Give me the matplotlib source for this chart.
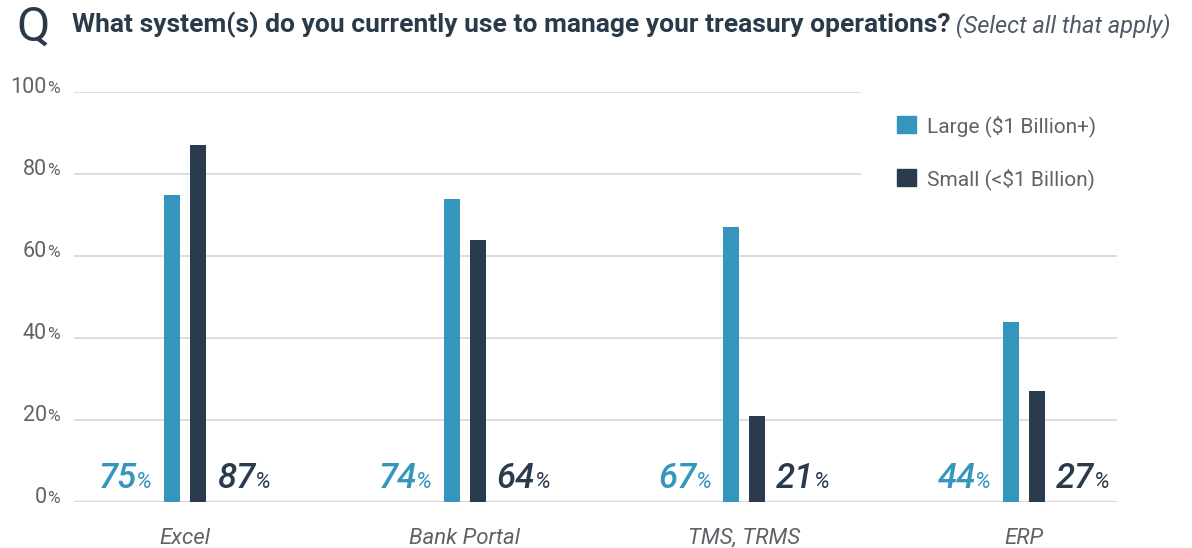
import matplotlib
matplotlib.use("Agg")
import matplotlib.pyplot as plt
from matplotlib.patches import Patch

plt.rcParams["font.family"] = ["Roboto", "DejaVu Sans"]

categories = ["Excel", "Bank Portal", "TMS, TRMS", "ERP"]
large = [75, 74, 67, 44]
small = [87, 64, 21, 27]
series_names = ["Large ($1 Billion+)", "Small (<$1 Billion)"]
yticks = [0, 20, 40, 60, 80, 100]

LARGE_C = "#3596bd"
SMALL_C = "#2b3b4e"
GRAY = "#5f6368"
TITLE_C = "#2b3a4b"
GRID_C = "#dadada"

W, H = 1192, 548
fig = plt.figure(figsize=(W / 100, H / 100), dpi=100)
# axes box in pixels: x 74..1117, y 92..502
ax = fig.add_axes([74 / W, (H - 502) / H, (1117 - 74) / W, (502 - 92) / H])
ax.set_xlim(-0.397, 3.333)
ax.set_ylim(0, 100)

bw = 0.057
off = 0.0465
xs = list(range(len(categories)))
ax.bar([x - off for x in xs], large, width=bw, color=LARGE_C, zorder=3)
ax.bar([x + off for x in xs], small, width=bw, color=SMALL_C, zorder=3)

# grid lines (top two stop short to leave room for legend)
for v in yticks:
    if v == 0:
        ax.axhline(v, color=GRID_C, lw=2.5, zorder=2)
    elif v >= 80:
        ax.axhline(v, xmax=(860 - 74) / (1117 - 74), color=GRID_C, lw=1.3, zorder=1)
    else:
        ax.axhline(v, color=GRID_C, lw=1.3, zorder=1)

for s in ax.spines.values():
    s.set_visible(False)
ax.set_yticks([])
ax.set_xticks(xs, categories, fontsize=16, style="italic", color=GRAY)
ax.tick_params(axis="x", length=0, pad=18.5)

# y tick labels: big number + small percent sign
ytr = ax.get_yaxis_transform()
for v in yticks:
    num = ax.annotate(str(v), xy=(0, v), xycoords=ytr, xytext=(-27, -1),
                      textcoords="offset pixels", ha="right", va="baseline",
                      fontsize=15.5, color=GRAY)
    ax.annotate("%", xy=(1, v), xycoords=(num, "data"), xytext=(0, -1),
                textcoords="offset pixels", ha="left", va="baseline",
                fontsize=12.5, color=GRAY)

# value labels next to bars
for x, a, b in zip(xs, large, small):
    pct = ax.annotate("%", xy=(x - off - bw / 2, 0), xytext=(-12, 14),
                      textcoords="offset pixels", ha="right", va="baseline",
                      fontsize=16, style="italic", color=LARGE_C)
    ax.annotate(str(a), xy=(0, 0), xycoords=(pct, "data"), xytext=(1, 14),
                textcoords="offset pixels", ha="right", va="baseline",
                fontsize=25, style="italic", fontweight="medium", color=LARGE_C)
    num = ax.annotate(str(b), xy=(x + off + bw / 2, 0), xytext=(11, 14),
                      textcoords="offset pixels", ha="left", va="baseline",
                      fontsize=25, style="italic", fontweight="medium", color=SMALL_C)
    ax.annotate("%", xy=(1, 0), xycoords=(num, "data"), xytext=(0, 14),
                textcoords="offset pixels", ha="left", va="baseline",
                fontsize=16, style="italic", color=SMALL_C)

# legend
handles = [Patch(color=LARGE_C, label=series_names[0]),
           Patch(color=SMALL_C, label=series_names[1])]
leg = ax.legend(handles=handles, loc="upper left",
                bbox_to_anchor=(897 / W, 1 - 115 / H), bbox_transform=fig.transFigure,
                frameon=False, fontsize=15, labelcolor=GRAY,
                handlelength=0.9, handleheight=0.9, handletextpad=0.55,
                labelspacing=1.5, borderpad=0, borderaxespad=0)

# title
fig.text(16 / W, 1 - 41 / H, "Q", fontsize=35, color=TITLE_C, va="baseline")
t = fig.text(72 / W, 1 - 32 / H,
             "What system(s) do you currently use to manage your treasury operations?",
             fontsize=19, fontweight="bold", color=TITLE_C, va="baseline")
ax.annotate(" (Select all that apply)", xy=(1, 0), xycoords=t, ha="left", va="bottom",
            fontsize=17, style="italic", color="#4f5866",
            annotation_clip=False)

fig.savefig("out.png", dpi=100)
